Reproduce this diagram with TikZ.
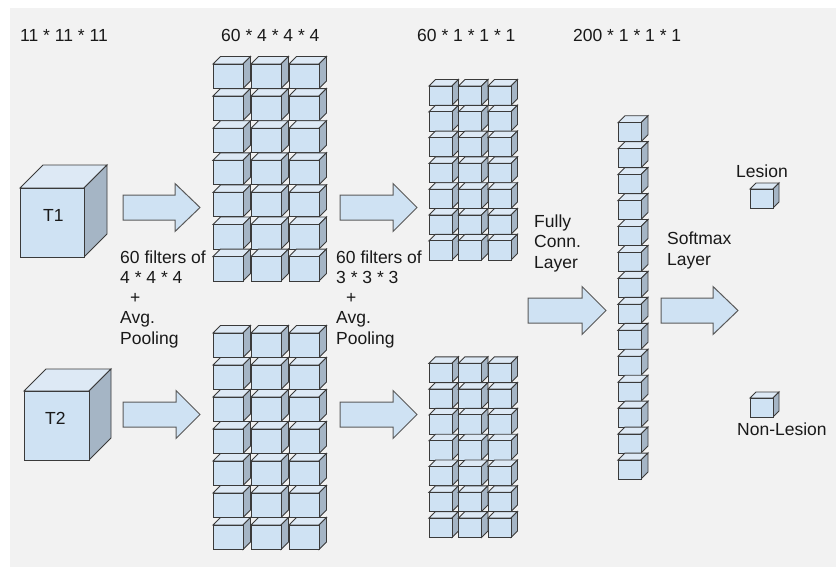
\documentclass[tikz,border=0pt]{standalone}
\usepackage{fontspec}
\setmainfont{Liberation Sans}
\definecolor{bgc}{HTML}{F2F2F2}
\definecolor{cfront}{HTML}{CFE2F3}
\definecolor{ctop}{HTML}{DDE9F5}
\definecolor{cside}{HTML}{A5B5C5}
\definecolor{cline}{HTML}{3A3A3A}
\definecolor{aline}{HTML}{5A5A5A}
\newcommand\mycube[5]{% x y w h d  (x,y = top-left of front face)
  \filldraw[cubeline,fill=ctop] (#1,#2) -- ++(#5,-#5) -- ++(#3,0) -- ++(-#5,#5) -- cycle;
  \filldraw[cubeline,fill=cside] (#1+#3,#2) -- ++(#5,-#5) -- ++(0,#4) -- ++(-#5,#5) -- cycle;
  \filldraw[cubeline,fill=cfront] (#1,#2) rectangle ++(#3,#4);
}
\newcommand\myarrow[4]{% x1 x2 tip yc
  \filldraw[arrowline] (#1,#4-12.5) -- (#2,#4-12.5) -- (#2,#4-24) -- (#3,#4) -- (#2,#4+24) -- (#2,#4+12.5) -- (#1,#4+12.5) -- cycle;
}
\tikzset{
  cubeline/.style={draw=cline,line width=0.9pt,line join=miter},
  arrowline/.style={draw=aline,fill=cfront,line width=1pt,line join=miter},
  lbl/.style={anchor=base west,inner sep=0pt,font=\fontsize{17.5}{20}\selectfont,text=black!90}
}
\begin{document}
\begin{tikzpicture}[x=1pt,y=-1pt]
\useasboundingbox (0,0) rectangle (836,576);
\fill[white] (0,0) rectangle (836,576);
\fill[bgc] (10,8) rectangle (836,567);

% header labels
\node[lbl] (h1) at (20,41) {11 * 11 * 11};
\node[lbl] (h2) at (221,41) {60 * 4 * 4 * 4};
\node[lbl] (h3) at (417,41) {60 * 1 * 1 * 1};
\node[lbl] (h4) at (573,41) {200 * 1 * 1 * 1};

% input cubes
\mycube{20}{188}{64}{69}{23}
\node[lbl] (t1) at (43,221) {T1};
\mycube{24}{391}{65}{69}{22}
\node[lbl] (t2) at (45,424) {T2};

% arrows
\myarrow{123}{175}{200}{207.5}
\myarrow{123}{176}{200}{414.5}
\myarrow{340}{393}{417}{207.5}
\myarrow{340}{393}{417}{414.5}
\myarrow{528}{582}{606}{310.5}
\myarrow{661}{713}{738}{310.5}

% first conv grids
\foreach \c in {0,1,2}{
  \foreach \r in {0,...,6}{
    \mycube{213+38*\c}{64+32.1*\r}{30}{24.5}{7.5}
    \mycube{213+38*\c}{333+32*\r}{30}{24.5}{7.5}
  }
}
% second conv grids
\foreach \c in {0,1,2}{
  \foreach \r in {0,...,6}{
    \mycube{429+29.5*\c}{86+25.8*\r}{23}{19.3}{6.5}
    \mycube{429+29.5*\c}{363.3+25.8*\r}{23}{19.3}{6.5}
  }
}
% fully connected column
\foreach \r in {0,...,13}{
  \mycube{618}{122.7+25.95*\r}{23}{19}{7}
}
% outputs
\mycube{750}{189}{23}{19}{6}
\mycube{750}{398}{23}{19}{6}

% side texts
\node[lbl] (f1a) at (120,263) {60 filters of};
\node[lbl] (f1b) at (120,283.3) {4 * 4 * 4};
\node[lbl] (f1c) at (130,303.6) {+};
\node[lbl] (f1d) at (120,323.9) {Avg.};
\node[lbl] (f1e) at (120,344.2) {Pooling};

\node[lbl] (f2a) at (336,263) {60 filters of};
\node[lbl] (f2b) at (336,283.3) {3 * 3 * 3};
\node[lbl] (f2c) at (346,303.6) {+};
\node[lbl] (f2d) at (336,323.9) {Avg.};
\node[lbl] (f2e) at (336,344.2) {Pooling};

\node[lbl] (fc1) at (534,227) {Fully};
\node[lbl] (fc2) at (534,247.5) {Conn.};
\node[lbl] (fc3) at (534,268) {Layer};

\node[lbl] (sm1) at (667,244.5) {Softmax};
\node[lbl] (sm2) at (667,265) {Layer};

\node[lbl] (les) at (736,177) {Lesion};
\node[lbl] (nles) at (737,435) {Non-Lesion};
\end{tikzpicture}
\end{document}
